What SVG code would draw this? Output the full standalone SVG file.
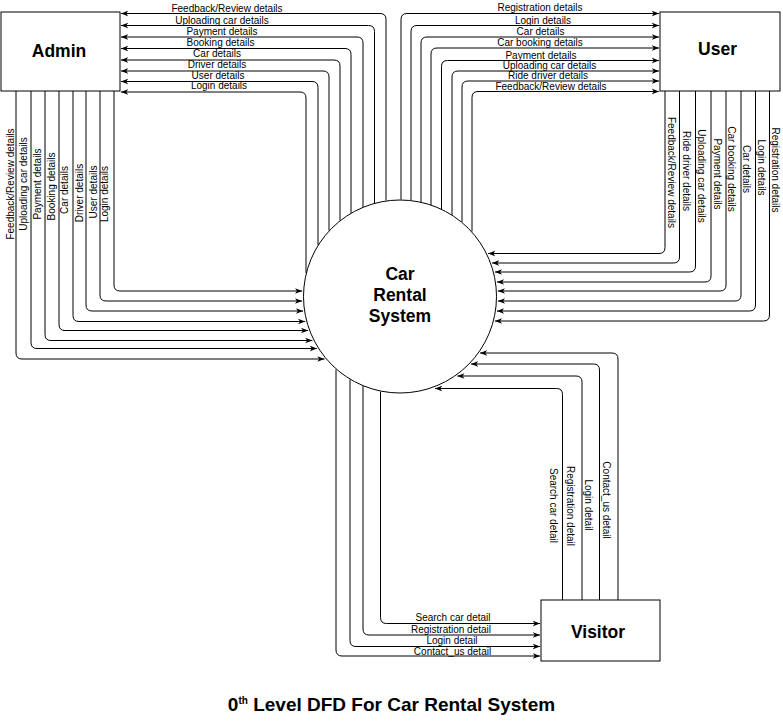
<svg xmlns="http://www.w3.org/2000/svg" width="783" height="728" viewBox="0 0 783 728">
<style>
  .box{fill:#fff;stroke:#000;stroke-width:1}
  .node{font-family:"Liberation Sans",Arial,sans-serif;font-weight:bold;font-size:17.5px;fill:#000;text-anchor:middle}
  .edge{fill:none;stroke:#000;stroke-width:1;marker-end:url(#arr)}
  .lbl{font-family:"Liberation Sans",Arial,sans-serif;font-size:10px;fill:#000;text-anchor:middle}
  .title{font-family:"Liberation Sans",Arial,sans-serif;font-weight:bold;font-size:19px;fill:#000;text-anchor:middle}
</style>
<defs>
  <marker id="arr" viewBox="0 0 10 10" refX="9" refY="5" markerWidth="8" markerHeight="8" markerUnits="userSpaceOnUse" orient="auto">
    <path d="M0,1.5 L9,5 L0,8.5 L2.5,5 z" fill="#000"/>
  </marker>
</defs>
<rect width="783" height="728" fill="#fff"/>

<g id="connectors">
  <!-- Circle to Admin (top) -->
  <path class="edge" d="M386,200.5 V19.5 Q386,13.5 380,13.5 H121"/>
  <path class="edge" d="M374.5,203 V31.5 Q374.5,25.5 368.5,25.5 H121"/>
  <path class="edge" d="M363,207 V43 Q363,37 357,37 H121"/>
  <path class="edge" d="M351,213 V54.5 Q351,48.5 345,48.5 H121"/>
  <path class="edge" d="M340,220.5 V66 Q340,60 334,60 H121"/>
  <path class="edge" d="M329,230.5 V77 Q329,71 323,71 H121"/>
  <path class="edge" d="M318,245 V87.5 Q318,81.5 312,81.5 H121"/>
  <path class="edge" d="M306,273 V98 Q306,92 300,92 H121"/>
  <text class="lbl" x="227" y="11.5">Feedback/Review details</text>
  <text class="lbl" x="222" y="23.5">Uploading car details</text>
  <text class="lbl" x="222" y="34.5">Payment details</text>
  <text class="lbl" x="220.5" y="46">Booking details</text>
  <text class="lbl" x="217" y="57">Car details</text>
  <text class="lbl" x="217" y="68">Driver details</text>
  <text class="lbl" x="218" y="79">User details</text>
  <text class="lbl" x="219" y="89">Login details</text>

  <!-- Circle to User (top) -->
  <path class="edge" d="M401,199.5 V19.5 Q401,13.5 407,13.5 H659"/>
  <path class="edge" d="M411,200 V31.5 Q411,25.5 417,25.5 H659"/>
  <path class="edge" d="M421,202 V43 Q421,37 427,37 H659"/>
  <path class="edge" d="M431,205 V54 Q431,48 437,48 H659"/>
  <path class="edge" d="M441.5,209 V66.5 Q441.5,60.5 447.5,60.5 H659"/>
  <path class="edge" d="M452,215 V77 Q452,71 458,71 H659"/>
  <path class="edge" d="M462,222 V87 Q462,81 468,81 H659"/>
  <path class="edge" d="M472,231.5 V97.5 Q472,91.5 478,91.5 H659"/>
  <text class="lbl" x="540" y="10.5">Registration details</text>
  <text class="lbl" x="543" y="24">Login details</text>
  <text class="lbl" x="540.5" y="35">Car details</text>
  <text class="lbl" x="540" y="46">Car booking details</text>
  <text class="lbl" x="541" y="58.5">Payment details</text>
  <text class="lbl" x="549.5" y="69">Uploading car details</text>
  <text class="lbl" x="548" y="79">Ride driver details</text>
  <text class="lbl" x="551" y="89.5">Feedback/Review details</text>

  <!-- Admin to Circle (left) -->
  <path class="edge" d="M114,91 V285 Q114,291 120,291 H302.2"/>
  <path class="edge" d="M100,91 V295 Q100,301 106,301 H302.1"/>
  <path class="edge" d="M86,91 V305 Q86,311 92,311 H303.1"/>
  <path class="edge" d="M73,91 V315.5 Q73,321.5 79,321.5 H305.2"/>
  <path class="edge" d="M59,91 V324.5 Q59,330.5 65,330.5 H308.1"/>
  <path class="edge" d="M45,91 V334.5 Q45,340.5 51,340.5 H312.4"/>
  <path class="edge" d="M31,91 V342.5 Q31,348.5 37,348.5 H316.9"/>
  <path class="edge" d="M16,91 V353 Q16,359 22,359 H324.5"/>
  <text class="lbl" transform="translate(13.5,184) rotate(-90)">Feedback/Review details</text>
  <text class="lbl" transform="translate(27,184) rotate(-90)">Uploading car details</text>
  <text class="lbl" transform="translate(41,184) rotate(-90)">Payment details</text>
  <text class="lbl" transform="translate(55,186.5) rotate(-90)">Booking details</text>
  <text class="lbl" transform="translate(67.5,190) rotate(-90)">Car details</text>
  <text class="lbl" transform="translate(82.5,193) rotate(-90)">Driver details</text>
  <text class="lbl" transform="translate(96.5,192) rotate(-90)">User details</text>
  <text class="lbl" transform="translate(108,194) rotate(-90)">Login details</text>

  <!-- User to Circle (right) -->
  <path class="edge" d="M665,91 V247.5 Q665,253.5 659,253.5 H488.1"/>
  <path class="edge" d="M679.5,91 V257 Q679.5,263 673.5,263 H492.1"/>
  <path class="edge" d="M695.5,91 V266 Q695.5,272 689.5,272 H494.9"/>
  <path class="edge" d="M711,91 V276 Q711,282 705,282 H496.9"/>
  <path class="edge" d="M726,91 V285 Q726,291 720,291 H497.8"/>
  <path class="edge" d="M741,91 V295 Q741,301 735,301 H497.9"/>
  <path class="edge" d="M755.5,91 V305 Q755.5,311 749.5,311 H496.9"/>
  <path class="edge" d="M769.5,91 V315 Q769.5,321 763.5,321 H494.9"/>
  <text class="lbl" transform="translate(668,172.5) rotate(90)">Feedback/Review details</text>
  <text class="lbl" transform="translate(683,171) rotate(90)">Ride driver details</text>
  <text class="lbl" transform="translate(698,176) rotate(90)">Uploading car details</text>
  <text class="lbl" transform="translate(714,174) rotate(90)">Payment details</text>
  <text class="lbl" transform="translate(728,169) rotate(90)">Car booking details</text>
  <text class="lbl" transform="translate(743,169) rotate(90)">Car details</text>
  <text class="lbl" transform="translate(757.5,167.5) rotate(90)">Login details</text>
  <text class="lbl" transform="translate(771.5,170) rotate(90)">Registration details</text>

  <!-- Circle to Visitor (bottom) -->
  <path class="edge" d="M380.5,391.5 V617.5 Q380.5,623.5 386.5,623.5 H540"/>
  <path class="edge" d="M363,386 V629 Q363,635 369,635 H540"/>
  <path class="edge" d="M350,379.5 V640.5 Q350,646.5 356,646.5 H540"/>
  <path class="edge" d="M336,369.5 V650 Q336,656 342,656 H540"/>
  <text class="lbl" x="453" y="620.5">Search car detail</text>
  <text class="lbl" x="451" y="632.5">Registration detail</text>
  <text class="lbl" x="452" y="644">Login detail</text>
  <text class="lbl" x="452.5" y="654.5">Contact_us detail</text>

  <!-- Visitor to Circle -->
  <path class="edge" d="M562.5,600 V394.5 Q562.5,388.5 556.5,388.5 H435"/>
  <path class="edge" d="M582,600 V382 Q582,376 576,376 H457.3"/>
  <path class="edge" d="M599.5,600 V370 Q599.5,364 593.5,364 H471"/>
  <path class="edge" d="M618,600 V359 Q618,353 612,353 H480"/>
  <text class="lbl" transform="translate(550,505.5) rotate(90)">Search car detail</text>
  <text class="lbl" transform="translate(566.5,506) rotate(90)">Registration detail</text>
  <text class="lbl" transform="translate(585,505) rotate(90)">Login detail</text>
  <text class="lbl" transform="translate(603,500) rotate(90)">Contact_us detail</text>
</g>

<g id="admin">
  <rect class="box" x="1" y="12" width="119" height="79"/>
  <text class="node" x="59" y="57">Admin</text>
</g>
<g id="user">
  <rect class="box" x="660" y="12" width="120" height="79"/>
  <text class="node" x="717.5" y="55">User</text>
</g>
<g id="visitor">
  <rect class="box" x="541" y="600" width="119" height="61"/>
  <text class="node" x="598" y="638">Visitor</text>
</g>
<g id="process">
  <circle class="box" cx="400" cy="296.5" r="96.5"/>
  <text class="node" x="400" y="280">Car</text>
  <text class="node" x="400" y="301">Rental</text>
  <text class="node" x="400" y="322">System</text>
</g>

<text class="title" x="391.5" y="711">0<tspan font-size="10" dy="-7">th</tspan><tspan dy="7"> Level DFD For Car Rental System</tspan></text>
</svg>
